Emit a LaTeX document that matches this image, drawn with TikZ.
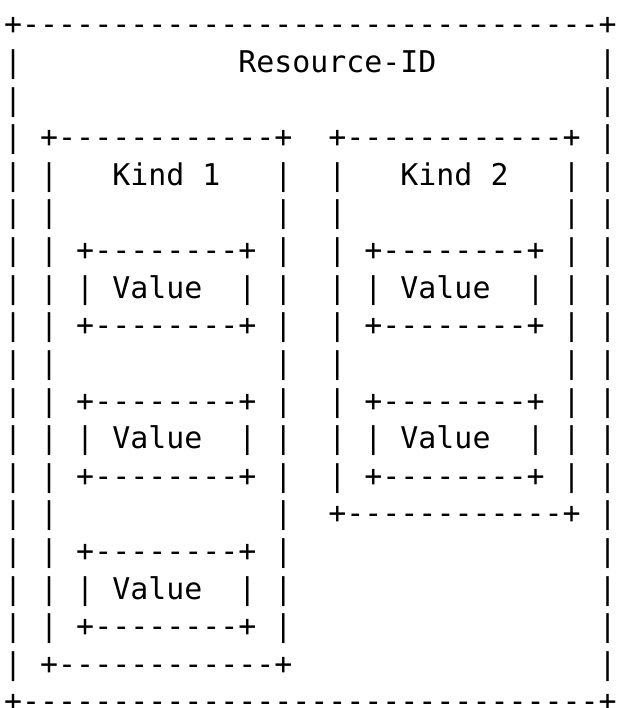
\documentclass[tikz,border=0pt]{standalone}
\usepackage{fontspec}
\setmonofont{DejaVu Sans Mono}
\tikzset{
  rowtxt/.style={anchor=base west, inner sep=0pt, outer sep=0pt, text depth=0pt,
    font=\ttfamily\fontsize{29.92pt}{37.6pt}\selectfont, text=black},
}
\newcommand\asciirow[3]{\node[rowtxt] (#1) at (4.2,{-35-37.6*#2}) {#3};}
\begin{document}
\begin{tikzpicture}[x=1pt,y=1pt]
\useasboundingbox (0,0) rectangle (616,-708);
\asciirow{r0}{0}{+--------------------------------+}
\asciirow{r1}{1}{|~~~~~~~~~~~~Resource-ID~~~~~~~~~|}
\asciirow{r2}{2}{|~~~~~~~~~~~~~~~~~~~~~~~~~~~~~~~~|}
\asciirow{r3}{3}{|~+------------+~~+------------+~|}
\asciirow{r4}{4}{|~|~~~Kind~1~~~|~~|~~~Kind~2~~~|~|}
\asciirow{r5}{5}{|~|~~~~~~~~~~~~|~~|~~~~~~~~~~~~|~|}
\asciirow{r6}{6}{|~|~+--------+~|~~|~+--------+~|~|}
\asciirow{r7}{7}{|~|~|~Value~~|~|~~|~|~Value~~|~|~|}
\asciirow{r8}{8}{|~|~+--------+~|~~|~+--------+~|~|}
\asciirow{r9}{9}{|~|~~~~~~~~~~~~|~~|~~~~~~~~~~~~|~|}
\asciirow{r10}{10}{|~|~+--------+~|~~|~+--------+~|~|}
\asciirow{r11}{11}{|~|~|~Value~~|~|~~|~|~Value~~|~|~|}
\asciirow{r12}{12}{|~|~+--------+~|~~|~+--------+~|~|}
\asciirow{r13}{13}{|~|~~~~~~~~~~~~|~~+------------+~|}
\asciirow{r14}{14}{|~|~+--------+~|~~~~~~~~~~~~~~~~~|}
\asciirow{r15}{15}{|~|~|~Value~~|~|~~~~~~~~~~~~~~~~~|}
\asciirow{r16}{16}{|~|~+--------+~|~~~~~~~~~~~~~~~~~|}
\asciirow{r17}{17}{|~+------------+~~~~~~~~~~~~~~~~~|}
\asciirow{r18}{18}{+--------------------------------+}
\end{tikzpicture}
\end{document}
